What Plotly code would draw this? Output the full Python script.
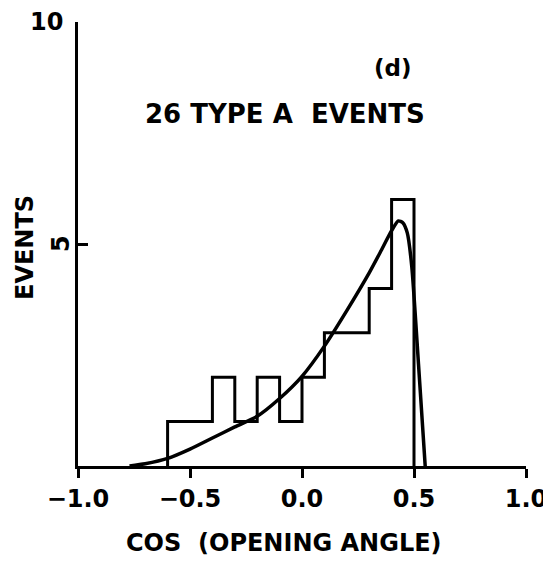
import plotly.graph_objects as go

# Histogram: bin edges and counts (26 type A events)
bin_edges = [-0.6, -0.5, -0.4, -0.3, -0.2, -0.1, 0.0, 0.1, 0.2, 0.3, 0.4, 0.5]
counts = [1, 1, 2, 1, 2, 1, 2, 3, 3, 4, 6]

# Fitted curve
curve_x = [-0.77, -0.7, -0.6, -0.5, -0.4, -0.3, -0.2, -0.1, 0.0, 0.1, 0.2, 0.3,
           0.35, 0.4, 0.43, 0.45, 0.47, 0.49, 0.52, 0.55]
curve_y = [0.0, 0.05, 0.17, 0.38, 0.63, 0.88, 1.12, 1.52, 2.02, 2.7, 3.5, 4.35,
           4.82, 5.3, 5.52, 5.48, 5.25, 4.5, 2.3, 0.0]

x_ticks = [-1.0, -0.5, 0.0, 0.5, 1.0]
x_ticktext = ["\u22121.0", "\u22120.5", "0.0", "0.5", "1.0"]
y_ticks = [5, 10]
y_ticktext = ["5", "10"]

FONT = "DejaVu Sans"

# step outline of histogram
hx, hy = [bin_edges[0]], [0]
for i, c in enumerate(counts):
    hx += [bin_edges[i], bin_edges[i + 1]]
    hy += [c, c]
hx.append(bin_edges[-1])
hy.append(0)

fig = go.Figure()
fig.add_trace(go.Scatter(x=hx, y=hy, mode="lines",
                         line=dict(color="black", width=3), hoverinfo="skip"))
fig.add_trace(go.Scatter(x=curve_x, y=curve_y, mode="lines", line_shape="spline",
                         line=dict(color="black", width=3.5, smoothing=0.6),
                         hoverinfo="skip"))

# page has an 8px body margin, so the figure is offset by 8px
L, T, PW, PH = 70, 14, 448, 444
fig.update_layout(
    width=543, height=553,
    margin=dict(l=L, r=543 - L - PW, t=T, b=553 - T - PH, autoexpand=False),
    plot_bgcolor="white", paper_bgcolor="white",
    showlegend=False,
    font=dict(family=FONT, color="black", size=22, weight="bold"),
)
fig.update_xaxes(range=[-1, 1], showline=True, linecolor="black", linewidth=3,
                 ticks="outside", ticklen=9, tickwidth=3, tickcolor="black",
                 tickvals=x_ticks, ticktext=x_ticktext, showgrid=False, zeroline=False,
                 automargin=False,
                 tickfont=dict(family=FONT, size=24, weight="bold"))
fig.update_yaxes(range=[0, 10], showline=True, linecolor="black", linewidth=3,
                 ticks="inside", ticklen=10, tickwidth=3, tickcolor="black",
                 tickvals=y_ticks, showticklabels=False, showgrid=False, zeroline=False,
                 automargin=False)

# y tick labels (hand lettered: "5" rotated, "10" upright)
for v, t in zip(y_ticks, y_ticktext):
    upright = (t == "10")
    fig.add_annotation(x=0, xref="paper", y=v, yref="y", text=t, showarrow=False,
                       xanchor="right" if upright else "center", yanchor="middle",
                       xshift=-13 if upright else -17,
                       textangle=0 if upright else -90,
                       font=dict(family=FONT, size=24, weight="bold"))

fig.add_annotation(x=-0.076, y=7.92, text="26 TYPE A  EVENTS", showarrow=False,
                   xanchor="center", yanchor="middle",
                   font=dict(family=FONT, size=26, weight="bold"))
fig.add_annotation(x=0.406, y=8.96, text="(d)", showarrow=False,
                   xanchor="center", yanchor="middle",
                   font=dict(family=FONT, size=23, weight="bold"))
fig.add_annotation(x=(284 - 78) / PW, xref="paper", y=(466 - 543) / PH, yref="paper",
                   text="COS  (OPENING ANGLE)", showarrow=False,
                   xanchor="center", yanchor="middle",
                   font=dict(family=FONT, size=24, weight="bold"))
fig.add_annotation(x=(25 - 78) / PW, xref="paper", y=(466 - 248) / PH, yref="paper",
                   text="EVENTS", showarrow=False, textangle=-90,
                   xanchor="center", yanchor="middle",
                   font=dict(family=FONT, size=24, weight="bold"))

fig.write_html("out.html")
